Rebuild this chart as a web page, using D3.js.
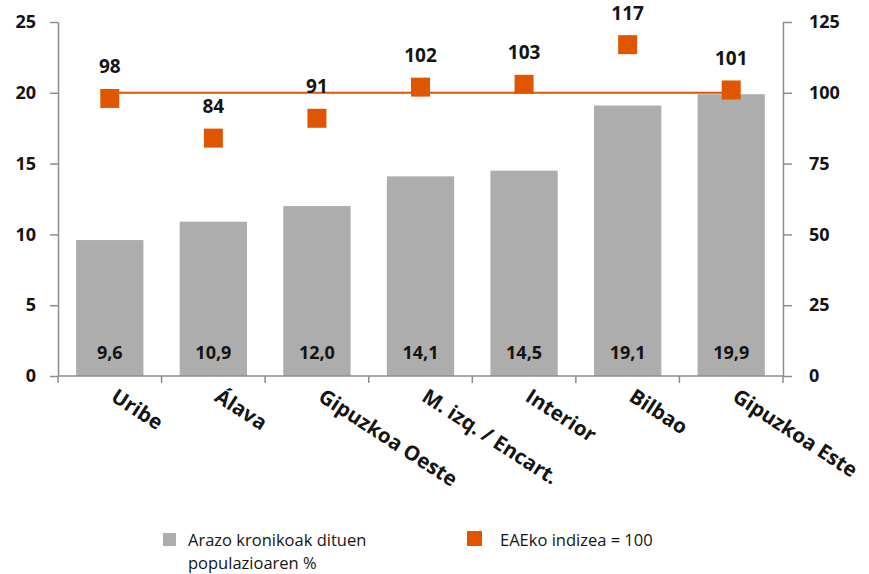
<!DOCTYPE html>
<html><head><meta charset="utf-8">
<script src="https://cdn.jsdelivr.net/npm/d3@7"></script>
<style>body{margin:0;background:#fff;} text{font-family:"Open Sans",sans-serif;}</style>
</head><body><svg id="c" width="869" height="574"></svg>
<script>
const categories = ["Uribe","Álava","Gipuzkoa Oeste","M. izq. / Encart.","Interior","Bilbao","Gipuzkoa Este"];
const pctValues = [9.6,10.9,12.0,14.1,14.5,19.1,19.9];
const indexValues = [98,84,91,102,103,117,101];
const leftTicks = [0,5,10,15,20,25];
const rightTicks = [0,25,50,75,100,125];
const refLine = 100;
const legendLabels = [["Arazo kronikoak dituen","populazioaren %"],["EAEko indizea = 100"]];

const svg = d3.select("#c");
const L=58, R=783, T=22, B=376;
const x = d3.scaleBand().domain(categories).range([L,R]).paddingInner(0.35).paddingOuter(0.175);
const yL = d3.scaleLinear().domain([0,25]).range([B,T]);
const yR = d3.scaleLinear().domain([0,125]).range([B,T]);
const grey="#adadad", orange="#e05600", axisC="#8c8c8c", ink="#141414";
const fmt = v => d3.format(".1f")(v).replace(".",",");

// bars
svg.selectAll("rect.bar").data(pctValues).join("rect")
  .attr("x",(d,i)=>x(categories[i])).attr("y",d=>yL(d))
  .attr("width",x.bandwidth()).attr("height",d=>B-yL(d)).attr("fill",grey);
svg.selectAll("text.bl").data(pctValues).join("text")
  .attr("x",(d,i)=>x(categories[i])+x.bandwidth()/2).attr("y",B-17)
  .attr("text-anchor","middle").attr("font-size",18).attr("font-weight","bold").attr("fill",ink)
  .text(d=>fmt(d));

// left axis
const gl = svg.append("g").attr("transform",`translate(${L},0)`)
  .call(d3.axisLeft(yL).tickValues(leftTicks).tickSize(8).tickPadding(14).tickSizeOuter(0));
gl.select(".domain").attr("stroke",axisC).attr("stroke-width",1.5);
gl.selectAll(".tick line").attr("stroke",axisC).attr("stroke-width",1.5);
gl.selectAll(".tick text").attr("font-size",18).attr("font-weight","bold").attr("fill",ink).style("font-family","Open Sans");

// right axis
const gr = svg.append("g").attr("transform",`translate(${R},0)`)
  .call(d3.axisRight(yR).tickValues(rightTicks).tickSize(9).tickPadding(17).tickSizeOuter(0));
gr.select(".domain").attr("stroke",axisC).attr("stroke-width",1.5);
gr.selectAll(".tick line").attr("stroke",axisC).attr("stroke-width",1.5);
gr.selectAll(".tick text").attr("font-size",18).attr("font-weight","bold").attr("fill",ink).style("font-family","Open Sans");

// bottom axis
const step = x.step();
const boundaries = categories.map((c,i)=>x(c)-x.paddingInner()*step/2).concat([R]);
svg.append("line").attr("x1",L).attr("x2",R).attr("y1",B).attr("y2",B).attr("stroke",axisC).attr("stroke-width",1.5);
svg.selectAll("line.ct").data(boundaries).join("line")
  .attr("x1",d=>d).attr("x2",d=>d).attr("y1",B).attr("y2",B+7).attr("stroke",axisC).attr("stroke-width",1.5);
svg.selectAll("text.cat").data(categories).join("text")
  .attr("transform",d=>`translate(${x(d)+x.bandwidth()/2},${B+24}) rotate(33)`)
  .attr("font-size",20.5).attr("font-weight","bold").attr("fill",ink).text(d=>d);

// reference line
const cx = i => x(categories[i])+x.bandwidth()/2;
svg.append("line").attr("x1",cx(0)).attr("x2",cx(categories.length-1))
  .attr("y1",yR(refLine)).attr("y2",yR(refLine)).attr("stroke",orange).attr("stroke-width",2);

// markers
const ms=19;
svg.selectAll("rect.m").data(indexValues).join("rect")
  .attr("x",(d,i)=>cx(i)-ms/2).attr("y",d=>yR(d)-ms/2).attr("width",ms).attr("height",ms).attr("fill",orange);
svg.selectAll("text.ml").data(indexValues).join("text")
  .attr("x",(d,i)=>cx(i)).attr("y",d=>yR(d)-25)
  .attr("text-anchor","middle").attr("font-size",19).attr("font-weight","bold").attr("fill",ink).text(d=>d);

// legend
svg.append("rect").attr("x",163).attr("y",533).attr("width",13).attr("height",13).attr("fill",grey);
svg.append("text").attr("x",188).attr("y",546).attr("font-size",16.5).attr("fill",ink).text(legendLabels[0][0]);
svg.append("text").attr("x",188).attr("y",569).attr("font-size",16.5).attr("fill",ink).text(legendLabels[0][1]);
svg.append("rect").attr("x",467).attr("y",531).attr("width",15).attr("height",15).attr("fill",orange);
svg.append("text").attr("x",500).attr("y",546).attr("font-size",16.5).attr("fill",ink).text(legendLabels[1][0]);
</script></body></html>
